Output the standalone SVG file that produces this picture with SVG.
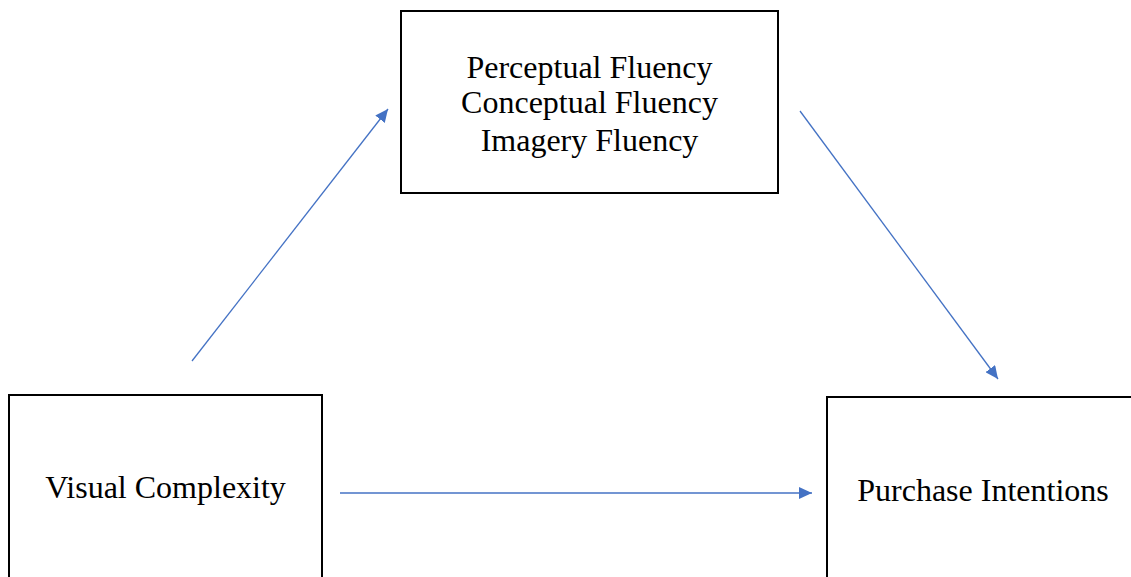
<svg xmlns="http://www.w3.org/2000/svg" width="1131" height="577" viewBox="0 0 1131 577">
<style>
.box{fill:#fff;stroke:#000;stroke-width:2}
.t{font-family:"Liberation Serif","Times New Roman",serif;font-size:32px;fill:#000;text-anchor:middle}
.c{stroke:#4472C4;stroke-width:1.3;fill:none;marker-end:url(#ah)}
</style>
<defs>
<marker id="ah" viewBox="0 0 13 12" refX="13" refY="6" markerWidth="13" markerHeight="12" markerUnits="userSpaceOnUse" orient="auto">
<path d="M0,0 L13,6 L0,12 z" fill="#4472C4"/>
</marker>
</defs>
<rect width="1131" height="577" fill="#fff"/>
<g id="mediators">
<rect class="box" x="401" y="11" width="377" height="182"/>
<text class="t" x="589.5" y="78">Perceptual Fluency</text>
<text class="t" x="589.5" y="113">Conceptual Fluency</text>
<text class="t" x="589.5" y="151">Imagery Fluency</text>
</g>
<g id="visual-complexity">
<rect class="box" x="9" y="395" width="313" height="200"/>
<text class="t" x="165.5" y="498">Visual Complexity</text>
</g>
<g id="purchase-intentions">
<rect class="box" x="827" y="397" width="320" height="200"/>
<text class="t" x="983" y="501">Purchase Intentions</text>
</g>
<g id="connectors">
<line class="c" x1="192" y1="361" x2="388" y2="109"/>
<line class="c" x1="800" y1="111" x2="998" y2="379"/>
<line class="c" x1="340" y1="493" x2="812" y2="493"/>
</g>
</svg>
